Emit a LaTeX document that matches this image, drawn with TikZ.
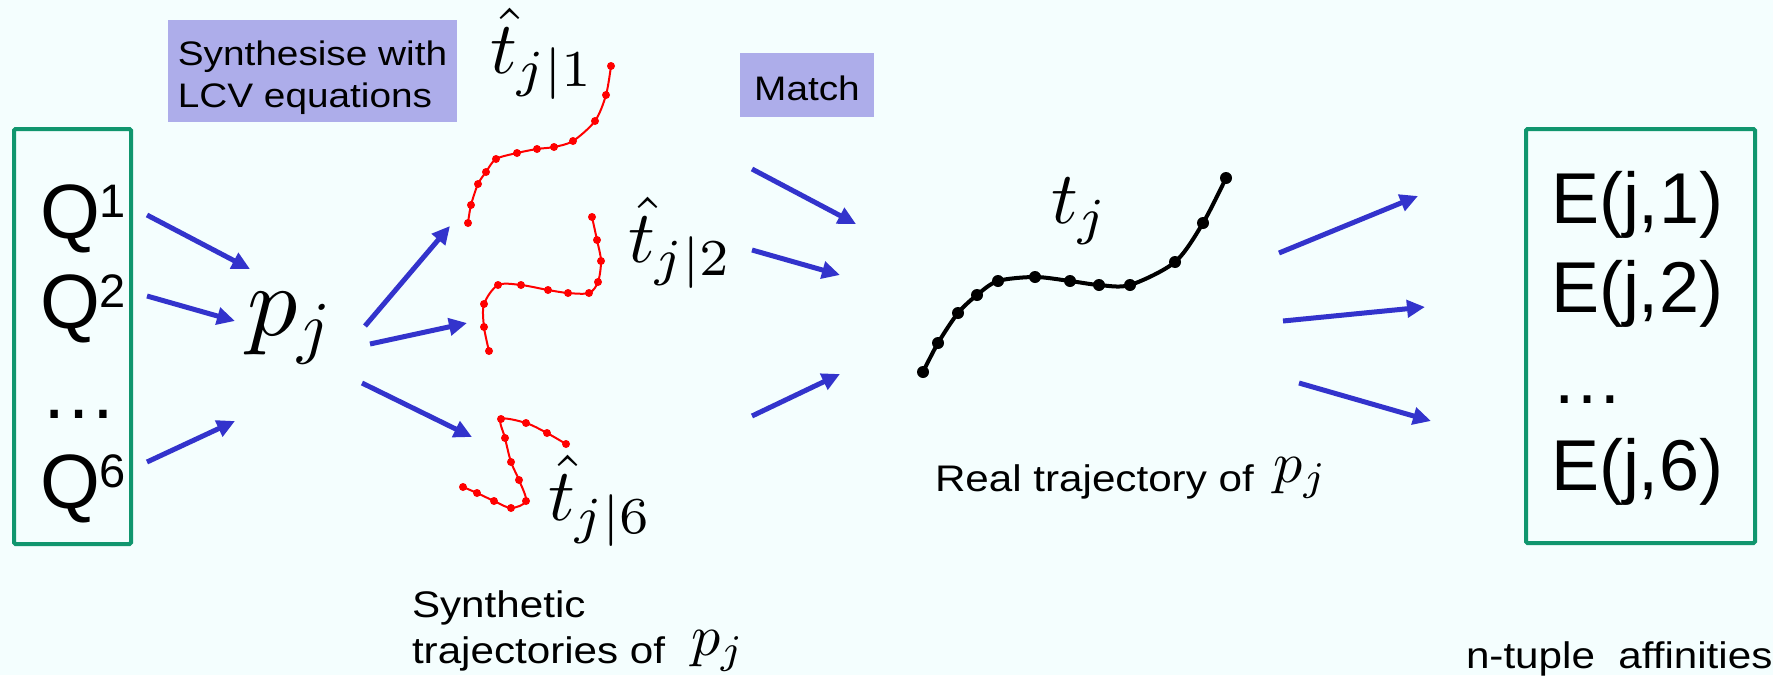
\documentclass[tikz,border=0pt]{standalone}
\usepackage[no-math]{fontspec}
\setmainfont{Liberation Sans}
\newfontfamily\widefont[FakeStretch=1.14]{Liberation Sans}
\DeclareFontShape{OT1}{cmr}{m}{n}{<-56>cmr7 <56->cmr10}{}
\DeclareFontShape{OML}{cmm}{m}{it}{<-56>cmmi7 <56->cmmi10}{}
\DeclareFontShape{OMS}{cmsy}{m}{n}{<-56>cmsy7 <56->cmsy10}{}
\DeclareFontShape{OMX}{cmex}{m}{n}{<->cmex10}{}
\usetikzlibrary{arrows.meta}
\definecolor{bg}{HTML}{F4FEFE}
\definecolor{boxgreen}{HTML}{10966E}
\definecolor{lav}{HTML}{ADADEA}
\definecolor{arrowblue}{HTML}{3333CC}
\begin{document}
\begin{tikzpicture}[x=1pt,y=-1pt,
  txt/.style={inner sep=0pt, outer sep=0pt, anchor=base west},
  small/.style={font=\widefont\fontsize{37}{46}\selectfont},
  gbox/.style={draw=boxgreen, line width=4pt, rounded corners=1.5pt, inner sep=0pt},
  lbox/.style={fill=lav, inner sep=0pt, align=left, font=\widefont\fontsize{34}{42}\selectfont},
  arr/.style={draw=arrowblue, line width=5pt, -{Triangle[length=18pt,width=17pt]}},
  redtraj/.style={draw=red, line width=2pt},
  blacktraj/.style={draw=black, line width=4pt}]
\useasboundingbox (0,0) rectangle (1773,675);
\fill[bg] (0,0) rectangle (1773,675);

% boxes
\node[gbox, minimum width=117pt, minimum height=415pt] (qbox) at (72.5,336.5) {};
\node[gbox, minimum width=229pt, minimum height=414pt] (ebox) at (1640.5,336) {};
\node[lbox, minimum width=289pt, minimum height=102pt, text height=72pt, text depth=0pt] (synbox) at (312.5,71) {Synthesise with\\LCV equations};
\node[lbox, minimum width=134pt, minimum height=64pt, text height=30pt, text depth=0pt] (matchbox) at (807,85) {Match};

% left texts
\node[txt, font=\fontsize{77}{77}\selectfont] (q1) at (40,238) {Q\raisebox{21pt}{\fontsize{47}{47}\selectfont 1}};
\node[txt, font=\fontsize{77}{77}\selectfont] (q2) at (40,328) {Q\raisebox{21pt}{\fontsize{47}{47}\selectfont 2}};
\node[txt, font=\fontsize{77}{77}\selectfont] (qd) at (40,418) {…};
\node[txt, font=\fontsize{77}{77}\selectfont] (q6) at (40,508) {Q\raisebox{21pt}{\fontsize{47}{47}\selectfont 6}};

% right texts
\node[txt, font=\fontsize{72}{72}\selectfont] (e1) at (1551,223) {E(j,1)};
\node[txt, font=\fontsize{72}{72}\selectfont] (e2) at (1551,312) {E(j,2)};
\node[txt, font=\fontsize{72}{72}\selectfont] (ed) at (1551,403) {…};
\node[txt, font=\fontsize{72}{72}\selectfont] (e6) at (1551,490) {E(j,6)};

% math labels
\node[txt, font=\fontsize{100}{100}\selectfont] (pj) at (247,335) {$p_j$};
\node[txt, font=\fontsize{74}{74}\selectfont] (th1) at (490,73) {$\hat{t}_{j|1}$};
\node[txt, font=\fontsize{74}{74}\selectfont] (th2) at (628,262) {$\hat{t}_{j|2}$};
\node[txt, font=\fontsize{74}{74}\selectfont] (th6) at (548,520) {$\hat{t}_{j|6}$};
\node[txt, font=\fontsize{74}{74}\selectfont] (tj) at (1051,223) {$t_j$};

% bottom texts
\node[txt, small, align=left] (synlab) at (412,663) {Synthetic\\trajectories of\hspace{26pt}\raisebox{8pt}{\fontsize{58}{46}\selectfont$p_j$}};
\node[txt, small] (reallab) at (935,491) {Real trajectory of\hspace{20pt}\raisebox{9pt}{\fontsize{58}{46}\selectfont$p_j$}};
\node[txt, small] (afflab) at (1466,668) {n-tuple\ \ affinities};

% arrow end points
\coordinate (a1s) at (147,215); \coordinate (a1e) at (250,269);
\coordinate (a2s) at (147,296); \coordinate (a2e) at (235,321);
\coordinate (a3s) at (147,462); \coordinate (a3e) at (235,421);
\coordinate (b1s) at (365,326); \coordinate (b1e) at (450,226);
\coordinate (b2s) at (370,344); \coordinate (b2e) at (467,323);
\coordinate (b3s) at (362,383); \coordinate (b3e) at (472,437);
\coordinate (c1s) at (752,169); \coordinate (c1e) at (856,224);
\coordinate (c2s) at (752,250); \coordinate (c2e) at (840,275);
\coordinate (c3s) at (752,416); \coordinate (c3e) at (840,374);
\coordinate (d1s) at (1279,253); \coordinate (d1e) at (1418,196);
\coordinate (d2s) at (1283,321); \coordinate (d2e) at (1425,307);
\coordinate (d3s) at (1299,383); \coordinate (d3e) at (1431,421);
\foreach \n in {a1,a2,a3,b1,b2,b3,c1,c2,c3,d1,d2,d3} \draw[arr] (\n s) -- (\n e);

% synthetic trajectories
\def\trajA{(468,223) (471,205) (478,184) (486,172) (496,159) (517,153) (537,149) (554,147) (573,141) (595,121) (606,95) (611,66)}
\def\trajB{(489,351) (484,327) (484,304) (498,285) (521,285) (548,290) (568,293) (589,293) (598,282) (601,261) (597,240) (592,217)}
\def\trajC{(566,444) (547,433) (526,423) (501,419) (505,438) (511,462) (519,480) (526,501) (511,508) (494,501) (477,493) (463,487)}
\draw[redtraj] plot[smooth] coordinates {\trajA};
\draw[redtraj] plot[smooth] coordinates {\trajB};
\draw[redtraj] plot[smooth] coordinates {\trajC};
\foreach \p in {(468,223),(471,205),(478,184),(486,172),(496,159),(517,153),(537,149),(554,147),(573,141),(595,121),(606,95),(611,66),
  (489,351),(484,327),(484,304),(498,285),(521,285),(548,290),(568,293),(589,293),(598,282),(601,261),(597,240),(592,217),
  (566,444),(547,433),(526,423),(501,419),(505,438),(511,462),(519,480),(526,501),(511,508),(494,501),(477,493),(463,487)}
  \fill[red] \p circle[radius=4pt];

% real trajectory
\draw[blacktraj] plot[smooth] coordinates {(923,372) (938,343) (958,313) (977,295) (998,281) (1035,277) (1070,281) (1099,285) (1130,285) (1175,262) (1203,223) (1226,178)};
\foreach \p in {(923,372),(938,343),(958,313),(977,295),(998,281),(1035,277),(1070,281),(1099,285),(1130,285),(1175,262),(1203,223),(1226,178)}
  \fill[black] \p circle[radius=6pt];
\end{tikzpicture}
\end{document}
